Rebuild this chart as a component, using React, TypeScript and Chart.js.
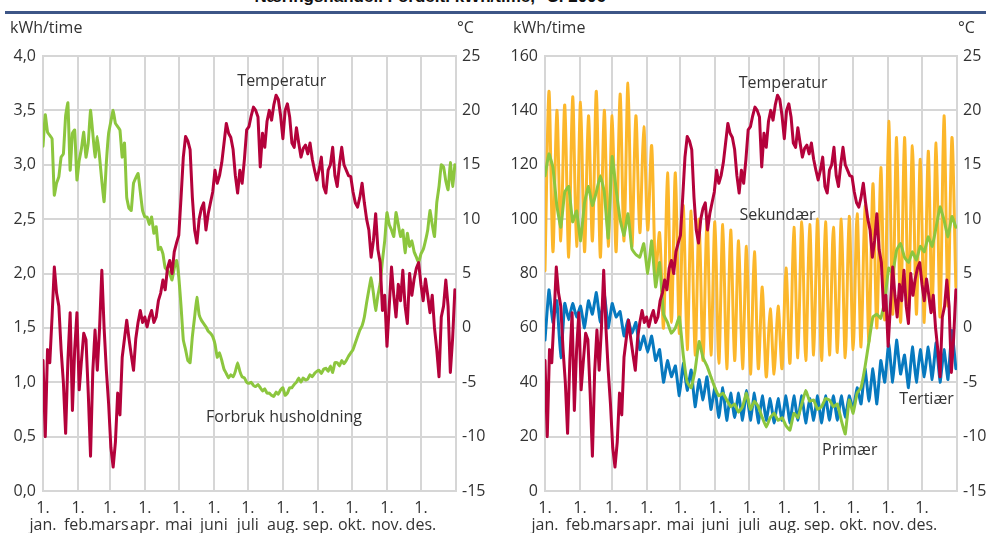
import { useEffect, useRef } from 'react';
import Chart from 'chart.js/auto';

// Day-of-year where each month starts (2006), and the month names under the ticks
const monthStarts = [0, 31, 59, 90, 120, 151, 181, 212, 243, 273, 304, 334];
const monthNames = ['jan.', 'feb.', 'mars', 'apr.', 'mai', 'juni', 'juli', 'aug.', 'sep.', 'okt.', 'nov.', 'des.'];

const TEMP_STEP = 2; // days between samples of temperature / household
const HALF_WEEK = 3.5; // weekend low / weekday high samples for the trade series

// °C, every second day
const temperatur = [
  -3, -10, -2, -3.2, 1, 5.6, 3.2, 2, -2, -5,
  -9.7, -3, 1.4, -7.6, -2, 1.4, -5.7, -3, -0.5, -1.1,
  -6, -11.8, -4, -0.2, -3.9, 0, 5.3, 0, -3.9, -7,
  -11, -12.8, -10.5, -6, -8, -2.7, -1, 0.7, -1, -2.5,
  -3.9, -1, 0.5, 1.6, 0.5, 1, 0.1, 1, 1.6, 0.5,
  1, 2.5, 3.2, 4.4, 3.5, 5.5, 6.2, 5, 7, 7.8,
  8.5, 12, 15.7, 17.6, 17.2, 16.4, 12, 9, 7.8, 10,
  11, 11.5, 9, 10.5, 11.5, 12.5, 14.5, 13.3, 14, 15.2,
  17, 18.8, 17.9, 17.5, 16.4, 14, 12.4, 14.5, 13.3, 15.5,
  18.2, 18.5, 19.5, 20.3, 20, 19.4, 14.8, 17.9, 16.6, 19,
  20, 19.1, 20.5, 21.4, 21, 19.5, 17.4, 20, 20.6, 19.4,
  17, 16.6, 18.4, 17, 15.7, 16.5, 16.8, 16, 17, 15.5,
  14.5, 13.6, 14.5, 15.7, 13, 12.4, 14.5, 15, 16.6, 14,
  13, 15, 16.6, 15, 14.5, 14, 13.9, 12.5, 11.5, 11.1,
  12, 13.3, 11.5, 10, 9, 6.5, 8, 10.5, 7.2, 6,
  1.6, 3, -1.7, 2, 5.6, 3, 1, 4, 2.5, 5.3,
  2, 0.4, 5, 3, 4.5, 5.5, 6, 4, 2.5, 4.5,
  3, 1.4, 3, 0, -2, -4.5, 1, 2, 4.4, 2,
  -4.1, -1, 3.5,
];

// kWh/time, household, every second day
const husholdning = [
  3.17, 3.46, 3.3, 3.27, 3.24, 2.72, 2.83, 2.89, 3.07, 3.1,
  3.45, 3.57, 2.95, 3.29, 3.32, 2.86, 3.04, 3.15, 3.3, 3.07,
  3.2, 3.5, 3.29, 3.07, 3.26, 3.07, 2.85, 2.66, 3.02, 3.29,
  3.4, 3.5, 3.38, 3.35, 3.32, 3.07, 3.2, 2.7, 2.6, 2.58,
  2.83, 2.88, 2.92, 2.75, 2.58, 2.52, 2.52, 2.45, 2.52, 2.37,
  2.43, 2.22, 2.24, 2.18, 2.05, 2.03, 2.0, 1.94, 2.05, 2.12,
  1.97, 1.7, 1.39, 1.3, 1.2, 1.18, 1.42, 1.6, 1.78, 1.62,
  1.57, 1.54, 1.51, 1.47, 1.45, 1.42, 1.35, 1.23, 1.27, 1.2,
  1.12, 1.08, 1.04, 1.07, 1.05, 1.1, 1.18, 1.1, 1.05, 1.04,
  1.0, 0.99, 1.0, 0.97, 0.96, 0.98, 0.95, 0.92, 0.94, 0.9,
  0.9, 0.88, 0.87, 0.91, 0.89, 0.93, 0.95, 0.88, 0.9, 0.95,
  0.95, 0.98, 1.0, 1.04, 1.0, 1.04, 1.02, 1.03, 1.07, 1.05,
  1.08, 1.1, 1.11, 1.08, 1.12, 1.13, 1.1, 1.15, 1.09, 1.18,
  1.18, 1.15, 1.2, 1.17, 1.2, 1.24, 1.27, 1.3, 1.36, 1.42,
  1.48, 1.52, 1.6, 1.73, 1.85, 1.96, 1.82, 1.66, 1.8, 1.91,
  2.12, 2.3, 2.56, 2.45, 2.4, 2.34, 2.56, 2.45, 2.34, 2.4,
  2.19, 2.37, 2.25, 2.3, 2.2, 2.15, 2.1, 2.18, 2.22, 2.3,
  2.4, 2.58, 2.45, 2.34, 2.65, 2.8, 3.0, 2.98, 2.85, 2.77,
  3.02, 2.8, 3.0,
];

// kWh/time, every half week (weekend, weekday, weekend, ...)
const primaer = [
  116, 124, 119, 105, 97, 110, 112, 99, 103, 92,
  106, 112, 105, 110, 116, 110, 93, 123, 111, 100,
  94, 102, 89, 87, 86, 91, 80, 92, 75, 84,
  65, 62, 58, 60, 64, 50, 40, 38, 44.5, 55,
  49, 46, 42, 38, 35, 36, 33.5, 31, 32, 29,
  31, 36, 30, 33, 31, 27, 23.5, 27, 28.6, 26,
  27, 24, 22.4, 28.6, 27, 32, 37, 33, 33.5, 30,
  31, 34, 33.5, 31, 32, 26, 21, 33.5, 28.6, 36,
  38, 45.6, 55, 64, 65, 63.5, 70, 82, 80, 88.6,
  91, 86, 84, 88, 85, 90, 88, 93.5, 90, 97,
  104.5, 99.7, 93.5, 101, 97,
];

const sekundaer = [
  81, 147, 88, 140, 92, 142, 86, 145, 90, 143,
  88, 138, 92, 147, 86, 140, 90, 138, 88, 146,
  92, 150, 90, 138, 95, 134, 96, 127, 80, 95,
  60, 117, 62, 117, 58, 105, 52, 103, 50, 100,
  48, 101, 50, 99, 47, 98, 45, 96, 48, 92,
  45, 90, 43, 88, 45, 75, 42, 67, 43, 68,
  45, 82, 47, 97, 49, 99, 48, 98, 50, 100,
  48, 99, 50, 97, 51, 100, 49, 101, 52, 102,
  53, 105, 55, 113, 60, 119, 63, 136, 65, 130,
  62, 130, 66, 127, 65, 122, 62, 125, 66, 128,
  64, 138, 68, 130, 75,
];

const tertiaer = [
  55.5, 74, 62, 70, 49, 69, 63, 69, 64, 68,
  60, 70, 65, 73, 62, 73, 60, 69, 64, 66,
  57, 63, 58, 62, 52, 57, 51, 57, 48, 52,
  40, 48, 42, 46, 35, 47, 37, 44.5, 31, 41,
  33.5, 42, 30, 38, 27, 38, 26, 36, 27, 36,
  26, 37, 26, 36, 25, 35, 26, 34, 25, 34,
  26, 35, 25, 35, 26, 35, 25, 34, 26, 35,
  25, 35, 26, 35, 26, 35, 27, 35, 30, 38,
  32, 45, 33, 45, 32, 48, 40, 54.5, 40, 55.5,
  43, 50, 38, 53, 40, 52, 42, 53, 41, 54.5,
  40, 52, 41, 59, 45,
];

const RED = '#b4023b';
const GREEN = '#8cc63e';
const ORANGE = '#fcb72b';
const BLUE = '#0779bf';
const GRID = '#d6d6d6';
const TEXT = '#333333';
const FONT = '"Open Sans", "Noto Sans", sans-serif';

const toPoints = (values: number[], step: number) => values.map((y, i) => ({ x: i * step, y }));

interface InlineLabel {
  text: string;
  day: number;
  value: number;
}

interface PanelProps {
  left: number;
  width: number;
  leftAxisWidth: number;
  rightAxisWidth: number;
  yMax: number;
  yStep: number;
  decimals: number;
  datasets: any[];
  labels: InlineLabel[];
}

const Panel = ({ left, width, leftAxisWidth, rightAxisWidth, yMax, yStep, decimals, datasets, labels }: PanelProps) => {
  const canvasRef = useRef<HTMLCanvasElement | null>(null);
  const chartRef = useRef<Chart | null>(null);

  useEffect(() => {
    if (!canvasRef.current) return;
    if (chartRef.current) chartRef.current.destroy();

    // text labels placed next to the lines instead of a legend
    const labelPlugin = {
      id: 'inlineLabels',
      afterDatasetsDraw(chart: any) {
        const { ctx, scales } = chart;
        ctx.save();
        ctx.font = `16px ${FONT}`;
        ctx.fillStyle = TEXT;
        ctx.textAlign = 'center';
        ctx.textBaseline = 'middle';
        labels.forEach((l) => {
          ctx.fillText(l.text, scales.x.getPixelForValue(l.day), scales.y.getPixelForValue(l.value));
        });
        ctx.restore();
      },
    };

    const tickFont = { family: FONT, size: 16 };

    chartRef.current = new Chart(canvasRef.current, {
      type: 'line',
      data: { datasets },
      options: {
        animation: false,
        responsive: true,
        maintainAspectRatio: false,
        layout: { padding: { top: 56, left: 0, right: 0, bottom: 0 } },
        plugins: { legend: { display: false }, tooltip: { enabled: false } },
        elements: {
          point: { radius: 0 },
          line: { borderWidth: 3, borderJoinStyle: 'round', borderCapStyle: 'round' },
        },
        scales: {
          x: {
            type: 'linear',
            min: 0,
            max: 365,
            afterBuildTicks: (scale: any) => {
              scale.ticks = monthStarts.map((value) => ({ value }));
            },
            afterFit: (scale: any) => {
              scale.height = 42;
            },
            ticks: {
              autoSkip: false,
              maxRotation: 0,
              padding: 9,
              color: TEXT,
              font: { ...tickFont, lineHeight: 1.05 },
              callback: (_v: any, i: number) => ['1.', monthNames[i]],
            },
            grid: { color: GRID, lineWidth: 2, drawTicks: false },
            border: { color: GRID, width: 2 },
          },
          y: {
            position: 'left',
            min: 0,
            max: yMax,
            afterFit: (scale: any) => {
              scale.width = leftAxisWidth;
            },
            ticks: {
              stepSize: yStep,
              padding: 7,
              color: TEXT,
              font: tickFont,
              callback: (v: any) => Number(v).toFixed(decimals).replace('.', ','),
            },
            grid: { color: GRID, lineWidth: 2, drawTicks: false },
            border: { color: GRID, width: 2 },
          },
          y1: {
            position: 'right',
            min: -15,
            max: 25,
            afterFit: (scale: any) => {
              scale.width = rightAxisWidth;
            },
            ticks: {
              stepSize: 5,
              padding: 6,
              color: TEXT,
              font: tickFont,
              callback: (v: any) => String(v),
            },
            grid: { display: false, drawTicks: false },
            border: { color: GRID, width: 2 },
          },
        },
      },
      plugins: [labelPlugin],
    } as any);

    return () => {
      if (chartRef.current) {
        chartRef.current.destroy();
        chartRef.current = null;
      }
    };
  }, []);

  return (
    <div style={{ position: 'absolute', left, top: 0, width, height: 533 }}>
      <canvas ref={canvasRef}></canvas>
    </div>
  );
};

const line = (label: string, data: { x: number; y: number }[], color: string, axis: string, tension = 0.1) => ({
  label,
  data,
  borderColor: color,
  backgroundColor: color,
  yAxisID: axis,
  tension,
  fill: false,
});

const unitStyle = {
  position: 'absolute' as const,
  top: 16,
  font: `16px ${FONT}`,
  color: TEXT,
  lineHeight: '22px',
  whiteSpace: 'nowrap' as const,
};

const App = () => {
  const tempPoints = toPoints(temperatur, TEMP_STEP);

  const leftDatasets = [
    line('Temperatur', tempPoints, RED, 'y1', 0),
    line('Forbruk husholdning', toPoints(husholdning, TEMP_STEP), GREEN, 'y'),
  ];

  const rightDatasets = [
    line('Temperatur', tempPoints, RED, 'y1', 0),
    line('Primær', toPoints(primaer, HALF_WEEK), GREEN, 'y'),
    line('Tertiær', toPoints(tertiaer, HALF_WEEK), BLUE, 'y'),
    line('Sekundær', toPoints(sekundaer, HALF_WEEK), ORANGE, 'y', 0.3),
  ];

  return (
    <div style={{ position: 'absolute', left: 0, top: 0, width: 991, height: 533, overflow: 'hidden', background: '#fff' }}>
      <div
        style={{
          position: 'absolute',
          left: 0,
          top: -12,
          width: 606,
          textAlign: 'right',
          font: 'bold 17px "Liberation Sans", Arial, sans-serif',
          lineHeight: '17px',
          color: '#111',
          whiteSpace: 'nowrap',
        }}
      >
        Næringshandel. Fordelt. kWh/time, °C. 2006
      </div>
      <div style={{ position: 'absolute', left: 5, top: 11, width: 981, height: 3, background: '#3d5687' }} />

      <Panel
        left={0}
        width={495}
        leftAxisWidth={43}
        rightAxisWidth={39}
        yMax={4}
        yStep={0.5}
        decimals={1}
        datasets={leftDatasets}
        labels={[
          { text: 'Temperatur', day: 211, value: 3.77 },
          { text: 'Forbruk husholdning', day: 213, value: 0.68 },
        ]}
      />
      <Panel
        left={500}
        width={491}
        leftAxisWidth={45}
        rightAxisWidth={34}
        yMax={160}
        yStep={20}
        decimals={0}
        datasets={rightDatasets}
        labels={[
          { text: 'Temperatur', day: 211, value: 150 },
          { text: 'Sekundær', day: 206, value: 101.5 },
          { text: 'Tertiær', day: 338, value: 33.8 },
          { text: 'Primær', day: 270, value: 15 },
        ]}
      />

      <span style={{ ...unitStyle, left: 10 }}>kWh/time</span>
      <span style={{ ...unitStyle, left: 457 }}>°C</span>
      <span style={{ ...unitStyle, left: 513 }}>kWh/time</span>
      <span style={{ ...unitStyle, left: 958 }}>°C</span>
    </div>
  );
};

export default App;
